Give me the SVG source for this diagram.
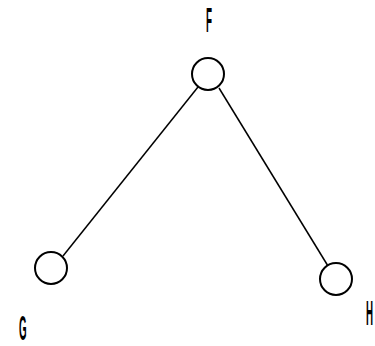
<svg xmlns="http://www.w3.org/2000/svg" width="375" height="346" viewBox="0 0 375 346">
<style>
.node circle{fill:#fff;stroke:#000;stroke-width:2}
.edge{stroke:#000;stroke-width:1.5;fill:none}
.lbl{font-family:"Liberation Sans",Arial,sans-serif;font-size:35px;font-weight:bold;fill:#000}
</style>
<rect width="375" height="346" fill="#fff"/>
<g id="connectors">
<line class="edge" x1="198" y1="87" x2="63" y2="256"/>
<line class="edge" x1="219" y1="88" x2="328" y2="266"/>
</g>
<g id="node-F" class="node">
<circle cx="208" cy="74" r="16"/>
<text class="lbl" transform="translate(206,32) scale(0.28,1)">F</text>
</g>
<g id="node-G" class="node">
<circle cx="51" cy="268" r="16"/>
<text class="lbl" transform="translate(19,340) scale(0.28,1)">G</text>
</g>
<g id="node-H" class="node">
<circle cx="336" cy="279" r="16"/>
<text class="lbl" transform="translate(366,325) scale(0.28,1)">H</text>
</g>
</svg>
